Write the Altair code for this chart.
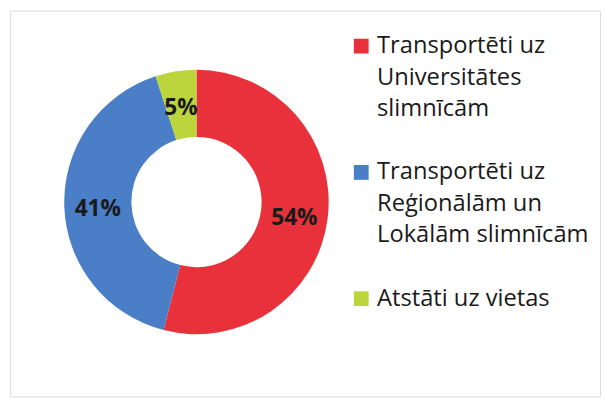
import altair as alt
import pandas as pd

categories = [
    "Transportēti uz Universitātes slimnīcām",
    "Transportēti uz Reģionālām un Lokālām slimnīcām",
    "Atstāti uz vietas",
]
label_lines = [
    ["Transportēti uz", "Universitātes", "slimnīcām"],
    ["Transportēti uz", "Reģionālām un", "Lokālām slimnīcām"],
    ["Atstāti uz vietas"],
]
values = [54, 41, 5]
colors = ["#e8313b", "#4a7ec6", "#bcd53c"]

df = pd.DataFrame({
    "cat": categories,
    "value": values,
    "order": list(range(len(categories))),
    "pct": [f"{v}%" for v in values],
})

# legend rows: each entry's lines, one blank row between entries
leg_rows = []
row = 0
for cat, lines in zip(categories, label_lines):
    for i, line in enumerate(lines):
        leg_rows.append({"cat": cat, "line": line, "row": row, "first": i == 0})
        row += 1
    row += 1
leg_df = pd.DataFrame(leg_rows)

FONT = "Open Sans"

color_scale = alt.Scale(domain=categories, range=colors)

base = alt.Chart(df).encode(
    theta=alt.Theta("value:Q", stack=True),
    order=alt.Order("order:Q"),
)

CX, CY = 189, 194

arcs = base.mark_arc(innerRadius=66, outerRadius=134).encode(
    color=alt.Color("cat:N", scale=color_scale, legend=None),
    x=alt.value(CX),
    y=alt.value(CY),
)

labels = base.mark_text(
    radius=100, font=FONT, fontSize=23, fontWeight="bold", color="#1a1a1a",
    align="center", baseline="middle", dy=4,
).encode(
    text="pct:N",
    x=alt.value(CX),
    y=alt.value(CY),
)

row_y = alt.Y("row:Q", scale=alt.Scale(domain=[0, 8], range=[36, 292]), axis=None)

leg_sym = (
    alt.Chart(leg_df)
    .transform_filter("datum.first")
    .mark_square(size=225, opacity=1)
    .encode(
        x=alt.value(356),
        y=row_y,
        color=alt.Color("cat:N", scale=color_scale, legend=None),
    )
)

leg_text = (
    alt.Chart(leg_df)
    .mark_text(font=FONT, fontSize=24, color="#1a1a1a", align="left", baseline="middle")
    .encode(
        x=alt.value(372),
        y=row_y,
        text="line:N",
    )
)

chart = (
    alt.layer(arcs, labels, leg_sym, leg_text)
    .properties(
        width=598,
        height=391,
        padding={"left": 2, "top": 0, "right": 2, "bottom": 1},
        autosize="none",
    )
    .configure_view(stroke="#8a8a8a", strokeWidth=1.5)
    .configure(background="white")
)

chart.save("out.html", embed_options={"renderer": "svg", "actions": False})
